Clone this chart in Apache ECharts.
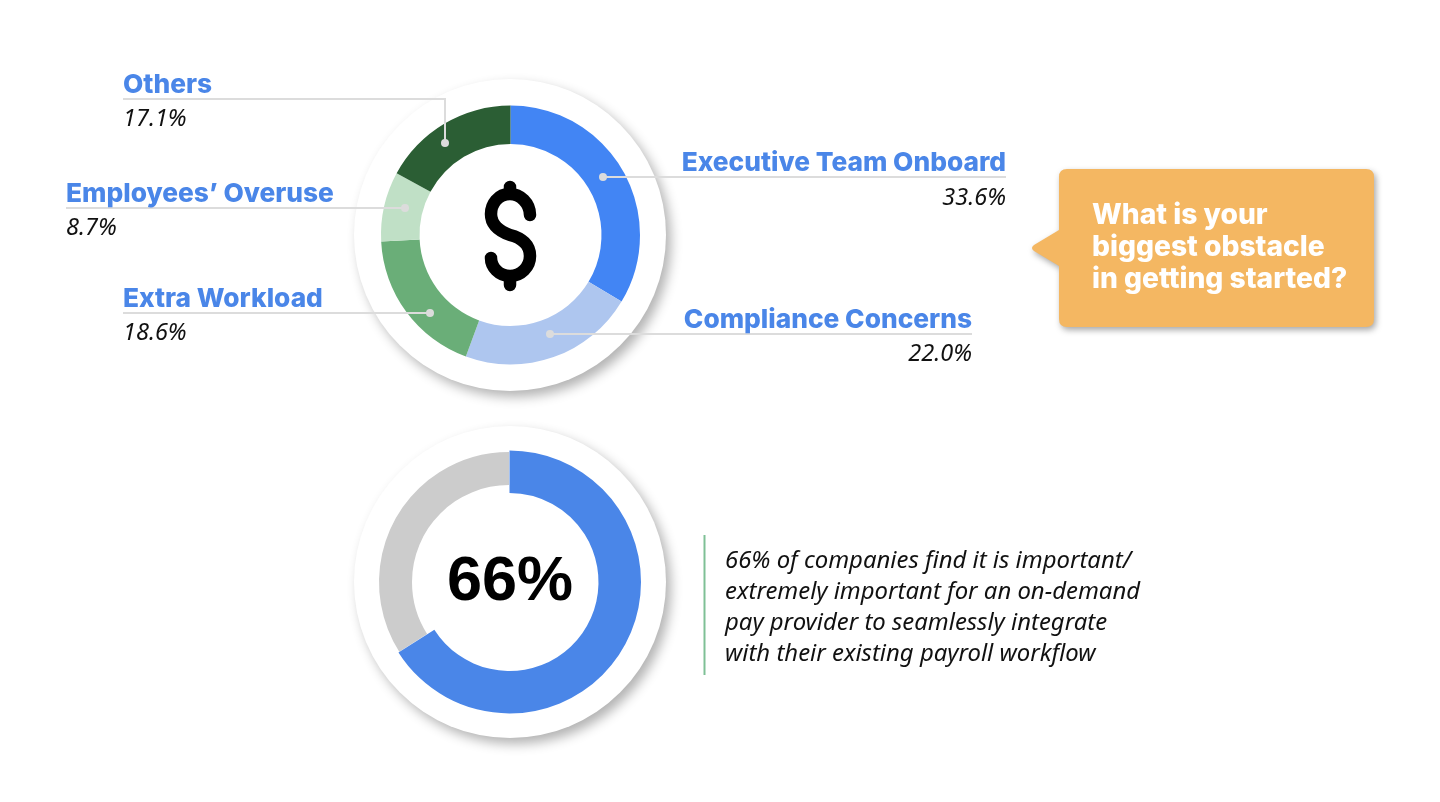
<!DOCTYPE html>
<html><head><meta charset="utf-8">
<script src="https://cdn.jsdelivr.net/npm/echarts@6/dist/echarts.min.js"></script>
<style>html,body{margin:0;padding:0;background:#fff}#c{width:1440px;height:802px}</style></head>
<body><div id="c"></div>
<script>
const categories = ["Executive Team Onboard","Compliance Concerns","Extra Workload","Employees’ Overuse","Others"];
const shares = [33.6,22.0,18.6,8.7,17.1];
const shareColors = ["#4285f4","#aec6ef","#6aae78","#c0e0c6","#2b5e34"];
const importance = [66,34];
const importanceColors = ["#4a86e8","#cccccc"];
const question = ["What is your","biggest obstacle","in getting started?"];
const finding = ["66% of companies find it is important/","extremely important for an on-demand","pay provider to seamlessly integrate","with their existing payroll workflow"];

const TITLE_FONT = '"Inter","Open Sans",sans-serif';
const BODY_FONT = '"Noto Sans","Open Sans",sans-serif';
const lblBlue = "#4a86e8", lineGrey = "#dcdcdc";

const callouts = [
  {i:0,x:1006,align:"right",ty:163,vy:198,pts:[[1006,177],[603,177]]},
  {i:1,x:972,align:"right",ty:320,vy:354,pts:[[972,334],[550,334]]},
  {i:2,x:123,align:"left",ty:299,vy:333,pts:[[123,313],[430,313]]},
  {i:3,x:66,align:"left",ty:194,vy:228,pts:[[66,208],[405,208]]},
  {i:4,x:123,align:"left",ty:85,vy:119,pts:[[123,99],[445,99],[445,143]]}
];

echarts.graphic.registerShape("dollarSign", echarts.graphic.extendShape({
  buildPath(c){
    c.moveTo(530,215);
    c.bezierCurveTo(530,203,520,194,510,194);
    c.bezierCurveTo(498,194,491,204,491,214);
    c.bezierCurveTo(491,225,499,231,510,235);
    c.bezierCurveTo(522,238,530,245,530,256);
    c.bezierCurveTo(530,267,521,276,510,276);
    c.bezierCurveTo(499,276,491,267,491,258);
    c.moveTo(510,187); c.lineTo(510,194);
    c.moveTo(510,276); c.lineTo(510,285);
  }
}));
echarts.graphic.registerShape("speechBubble", echarts.graphic.extendShape({
  buildPath(c){
    c.moveTo(1067,169); c.lineTo(1366,169); c.quadraticCurveTo(1374,169,1374,177);
    c.lineTo(1374,319); c.quadraticCurveTo(1374,327,1366,327);
    c.lineTo(1067,327); c.quadraticCurveTo(1059,327,1059,319);
    c.lineTo(1059,266); c.lineTo(1034,251); c.quadraticCurveTo(1030,248,1034,245);
    c.lineTo(1059,230); c.lineTo(1059,177); c.quadraticCurveTo(1059,169,1067,169);
    c.closePath();
  }
}));

const disc = (cx,cy)=>({type:"pie",silent:true,center:[cx,cy],radius:[0,156],label:{show:false},labelLine:{show:false},
  animation:false,z:1,data:[{value:1,itemStyle:{color:"#fff",shadowColor:"rgba(0,0,0,0.30)",shadowBlur:12,shadowOffsetX:5,shadowOffsetY:6}}]});

const g = [];
callouts.forEach(c=>{
  g.push({type:"polyline",z:50,shape:{points:c.pts},style:{stroke:lineGrey,lineWidth:2,fill:null}});
  const e=c.pts[c.pts.length-1];
  g.push({type:"circle",z:51,shape:{cx:e[0],cy:e[1],r:4},style:{fill:lineGrey}});
  g.push({type:"text",z:52,style:{text:categories[c.i],x:c.x,y:c.ty,align:c.align,verticalAlign:"middle",fill:lblBlue,font:'800 26.3px '+TITLE_FONT}});
  g.push({type:"text",z:52,style:{text:shares[c.i].toFixed(1)+"%",x:c.x,y:c.vy,align:c.align,verticalAlign:"middle",fill:"#111",font:'italic 400 23.5px '+BODY_FONT}});
});
g.push({type:"dollarSign",z:52,shape:{},style:{stroke:"#000",lineWidth:12.5,lineCap:"round",lineJoin:"round",fill:null}});
g.push({type:"text",z:52,style:{text:importance[0]+"%",x:510,y:583,align:"center",verticalAlign:"middle",fill:"#000",font:'700 63px "Liberation Sans",Arial,sans-serif'}});
g.push({type:"speechBubble",z:40,shape:{},style:{fill:"#f4b762",shadowColor:"rgba(0,0,0,0.35)",shadowBlur:6,shadowOffsetX:2,shadowOffsetY:3}});
question.forEach((t,i)=>g.push({type:"text",z:52,style:{text:t,x:1092,y:216+i*32,align:"left",verticalAlign:"middle",fill:"#fff",font:'800 28.2px '+TITLE_FONT}}));
g.push({type:"line",z:50,shape:{x1:704.5,y1:535,x2:704.5,y2:675},style:{stroke:"#7fc096",lineWidth:2}});
finding.forEach((t,i)=>g.push({type:"text",z:52,style:{text:t,x:725,y:561+i*31,align:"left",verticalAlign:"middle",fill:"#111",font:'italic 400 23.9px '+BODY_FONT}}));

const arcOnly = (keep)=>importance.map((v,i)=>({name:i?"Other":"Important",value:v,
  itemStyle:{color:i===keep?importanceColors[i]:"transparent"}}));

const chart = echarts.init(document.getElementById("c"),null,{renderer:"canvas"});
chart.setOption({
  backgroundColor:"#fff",animation:false,
  series:[
    disc(510,235),
    {type:"pie",silent:true,z:2,center:[510.5,235],radius:[91,129.5],startAngle:90,label:{show:false},labelLine:{show:false},
      data:categories.map((n,i)=>({name:n,value:shares[i],itemStyle:{color:shareColors[i]}}))},
    disc(510,582),
    {type:"pie",silent:true,z:2,center:[509,582],radius:[97,130],startAngle:90,label:{show:false},labelLine:{show:false},data:arcOnly(1)},
    {type:"pie",silent:true,z:3,center:[509.5,582],radius:[89,131.5],startAngle:90,label:{show:false},labelLine:{show:false},data:arcOnly(0)}
  ],
  graphic:{elements:g}
});
</script></body></html>
